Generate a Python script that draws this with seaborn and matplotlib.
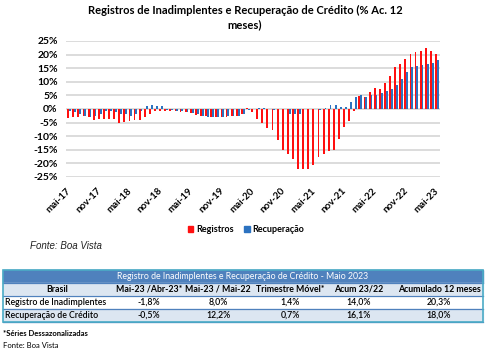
import matplotlib
matplotlib.use("Agg")
import matplotlib.pyplot as plt
from matplotlib.patches import Rectangle, Patch
import seaborn as sns
import pandas as pd

# --- dados (% acumulado 12 meses), mai-17 .. mai-23
meses = ['jan', 'fev', 'mar', 'abr', 'mai', 'jun', 'jul', 'ago', 'set', 'out', 'nov', 'dez']
periodos = [f"{meses[(4 + k) % 12]}-{17 + (4 + k) // 12}" for k in range(73)]

registros = [
    -3.4, -3.1, -2.8, -2.4, -3.0, -4.0, -3.6, -3.5, -3.7, -3.5, -5.0, -4.6,
    -4.5, -4.0, -4.0, -3.0, -1.7, -0.9, -0.7, -0.6, -0.9, -0.9, -1.2, -1.2,
    -1.5, -2.1, -2.7, -2.7, -3.0, -3.0, -3.0, -2.8, -2.5, -2.5, -1.9, 0.3,
    -1.0, -3.5, -5.1, -7.0, -7.9, -11.4, -15.1, -16.4, -18.4, -21.9, -21.9, -21.9,
    -20.5, -17.8, -16.5, -15.5, -15.0, -11.1, -6.8, -4.3, -0.6, 4.8, 4.5, 6.1,
    7.6, 7.5, 9.7, 12.3, 15.3, 16.7, 18.4, 20.3, 21.1, 21.4, 22.6, 21.3,
    20.3]
recuperacao = [
    -0.9, -1.2, -1.7, -2.5, -3.1, -2.5, -1.7, -0.9, -0.9, -1.2, -1.7, -1.7,
    -2.7, -1.7, -0.9, 1.0, 1.6, 1.2, 1.0, -0.3, -0.5, -0.6, -0.8, -1.2,
    -1.5, -2.0, -2.4, -2.8, -3.0, -3.1, -3.1, -2.5, -2.5, -2.5, -2.0, -0.5,
    0.0, 0.5, 0.5, 0.1, -0.5, 0.0, 0.0, -2.0, -1.7, -1.7, 0.0, 0.0,
    0.0, -0.2, 0.4, 1.5, 1.4, 0.7, 0.7, 2.7, 4.3, 5.0, 4.3, 5.0,
    5.3, 6.0, 6.6, 7.5, 8.8, 11.0, 13.5, 15.3, 15.9, 16.3, 16.6, 16.9,
    18.0]

# --- tabela
colunas = ["Brasil", "Mai-23 /Abr-23*", "Mai-23 / Mai-22", "Trimestre Móvel*", "Acum 23/22", "Acumulado 12 meses"]
linhas = ["Registro de Inadimplentes", "Recuperação de Crédito"]
valores_reg = ["-1,8%", "8,0%", "1,4%", "14,0%", "20,3%"]
valores_rec = ["-0,5%", "12,2%", "0,7%", "16,1%", "18,0%"]

vermelho = "#ff1010"
azul = "#2c72c0"

plt.rcParams['font.family'] = ['Lato', 'DejaVu Sans']

W, H = 500, 350
fig = plt.figure(figsize=(5, 3.5), dpi=100)


def P(x, y):
    return x / W, 1 - y / H


ax = fig.add_axes([66 / W, 1 - 177 / H, 374 / W, 136 / H])

df = pd.DataFrame({'periodo': periodos * 2,
                   'valor': registros + recuperacao,
                   'serie': ['Registros'] * 73 + ['Recuperação'] * 73})
sns.barplot(data=df, x='periodo', y='valor', hue='serie', palette=[vermelho, azul],
            width=0.72, ax=ax, legend=False, saturation=1)

ax.set_ylim(-25, 25)
ax.set_xlim(-0.6, 72.6)
ax.set_yticks(range(-25, 26, 5))
ax.set_yticklabels([f"{v}%" for v in range(-25, 26, 5)], fontsize=7.5, fontweight='bold')
ax.set_xticks(range(0, 73, 6))
ax.set_xticklabels(periodos[::6], rotation=45, ha='right', va='center',
                   rotation_mode='anchor', fontsize=7, fontweight='bold')
ax.tick_params(length=0)
ax.tick_params(axis='x', pad=9)
ax.tick_params(axis='y', pad=6)
ax.grid(axis='y', color='#d9d9d9', lw=1.3)
ax.set_axisbelow(True)
for s in ax.spines.values():
    s.set_visible(False)
ax.set_xlabel('')
ax.set_ylabel('')

fig.text(*P(245, 10), "Registros de Inadimplentes e Recuperação de Crédito (% Ac. 12",
         ha='center', va='center', fontsize=8, fontweight='bold')
fig.text(*P(245, 25), "meses)", ha='center', va='center', fontsize=8, fontweight='bold')

handles = [Patch(color=vermelho), Patch(color=azul)]
fig.legend(handles, ['Registros', 'Recuperação'], loc='center', bbox_to_anchor=P(246, 230),
           ncol=2, frameon=False, handlelength=0.6, handleheight=0.6, handletextpad=0.3,
           columnspacing=1.2, prop={'size': 6.5, 'weight': 'bold'})

fig.text(*P(30, 246), "Fonte: Boa Vista", ha='left', va='center', fontsize=7,
         style='italic', family='Liberation Sans', color='#222222')

# --- tabela abaixo do grafico
x0, x1 = 3, 483
linhas_y = [270, 283, 296, 309, 322]
centros = [57, 149, 218, 290, 359, 439]
azul_tab = "#4f81bd"
claro = "#dce6f1"

fig.patches.append(Rectangle(P(x0, 283), (x1 - x0) / W, 13 / H, transform=fig.transFigure,
                             color=azul_tab, zorder=0))
for ya, cor in [(296, claro), (309, 'white'), (322, claro)]:
    fig.patches.append(Rectangle(P(x0, ya), (x1 - x0) / W, 13 / H, transform=fig.transFigure,
                                 color=cor, zorder=0))
for ya in linhas_y[1:]:
    fig.add_artist(plt.Line2D([x0 / W, x1 / W], [1 - ya / H] * 2, color=azul_tab, lw=0.9))
fig.patches.append(Rectangle(P(x0, 322), (x1 - x0) / W, 52 / H, transform=fig.transFigure,
                             fill=False, edgecolor='#4bacc6', lw=1.2, zorder=3))

fs = 6.3
fig.text(*P(243, 276.5), "Registro de Inadimplentes e Recuperação de Crédito - Maio 2023",
         ha='center', va='center', color='white', fontsize=fs)
for c, txt in zip(centros, colunas):
    fig.text(*P(c, 289.5), txt, ha='center', va='center', fontsize=fs, fontweight='bold')
for yy, nome, vals in [(302.5, linhas[0], valores_reg), (315.5, linhas[1], valores_rec)]:
    fig.text(*P(5, yy), nome, ha='left', va='center', fontsize=fs, fontweight='semibold')
    for c, v in zip(centros[1:], vals):
        fig.text(*P(c, yy), v, ha='center', va='center', fontsize=fs, fontweight='semibold')

fig.text(*P(3, 333), "*Séries Dessazonalizadas", ha='left', va='center', fontsize=5.5,
         fontweight='bold')
fig.text(*P(3, 345), "Fonte: Boa Vista", ha='left', va='center', fontsize=5.5)

fig.savefig("out.png", dpi=100)
